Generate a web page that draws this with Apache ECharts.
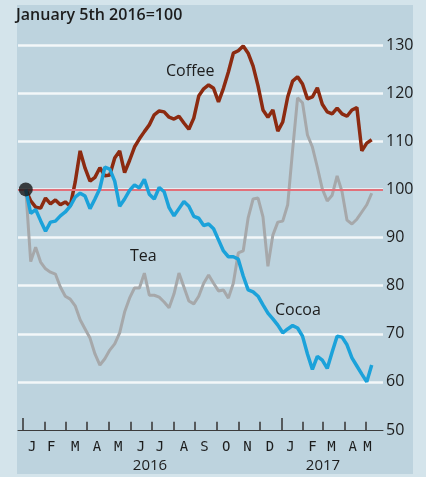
<!DOCTYPE html>
<html><head><meta charset="utf-8">
<script src="https://cdn.jsdelivr.net/npm/echarts/dist/echarts.min.js"></script>
<style>
html,body{margin:0;padding:0;background:#d4e4eb;width:426px;height:477px;overflow:hidden;}
#panel{position:absolute;left:17px;top:5px;width:396px;height:469px;background:#bdd3de;}
#c{position:absolute;left:0;top:0;width:426px;height:477px;}
</style>
</head><body><div id="panel"></div><div id="c"></div>
<script>
const dates = [
'2016-01-05','2016-01-12','2016-01-19','2016-01-26','2016-02-02','2016-02-09','2016-02-16','2016-02-23',
'2016-03-01','2016-03-08','2016-03-15','2016-03-22','2016-03-29','2016-04-05','2016-04-12','2016-04-19',
'2016-04-26','2016-05-03','2016-05-10','2016-05-17','2016-05-24','2016-05-31','2016-06-07','2016-06-14',
'2016-06-21','2016-06-28','2016-07-05','2016-07-12','2016-07-19','2016-07-26','2016-08-02','2016-08-09',
'2016-08-16','2016-08-23','2016-08-30','2016-09-06','2016-09-13','2016-09-20','2016-09-27','2016-10-04',
'2016-10-11','2016-10-18','2016-10-25','2016-11-01','2016-11-08','2016-11-15','2016-11-22','2016-11-29',
'2016-12-06','2016-12-13','2016-12-20','2016-12-27','2017-01-03','2017-01-10','2017-01-17','2017-01-24',
'2017-01-31','2017-02-07','2017-02-14','2017-02-21','2017-02-28','2017-03-07','2017-03-14','2017-03-21',
'2017-03-28','2017-04-04','2017-04-11','2017-04-18','2017-04-25','2017-05-02','2017-05-09'];

const coffee = [100,97.6,96.3,96.1,98.2,97.0,97.8,96.8,97.4,96.5,101.5,108,104.4,101.7,102.5,104.5,
102.8,103,106.5,108,103.5,106,108.8,110.5,112,113.4,115.5,116.3,116.1,115,114.6,115.2,
113.8,112.5,114.8,119.4,120.9,121.7,121,118.2,121,124.4,128.3,128.8,129.8,128.3,125.6,121.5,
116.5,115,116.5,112.1,114,119.2,122.5,123.4,121.9,118.8,119.2,121.1,117.7,116.1,115.7,116.9,
115.7,115.2,116.5,117,108,109.6,110.3];

const cocoa = [100,95.0,95.8,93.5,91.3,93.2,93.4,94.5,95.3,96.5,98.4,99.2,98.6,96,98,100.2,
104.6,104.2,101.7,96.5,98.0,99.8,100.9,100.3,102.1,99,98,100.4,99.5,96.2,94.5,96,
97.5,96.5,94.4,94,92.5,92.8,91.8,89.5,87.2,86,86,85.5,82,79.1,78.7,77.8,
76,74.3,73.1,71.8,70.2,71,71.7,71.2,69.5,65.8,62.6,65.3,64.5,62.8,66.2,69.5,
69.3,67.7,65,63.3,61.6,60,63.5];

const tea = [100,85,88,84.9,83.5,82.8,82.4,79.7,77.8,77.2,75.8,72.9,71,69.1,65.8,63.5,
64.8,66.6,67.9,70.2,74.5,77.4,79.5,79.5,82.6,78,78,77.6,76.6,75.4,78.3,82.6,
79.7,76.8,76.2,77.8,80.5,82.2,80.5,78.9,79.1,77.4,80.5,86.8,87.2,94.1,98,98.2,
94.3,84,90.5,93.2,93.4,96.8,108.2,119,118,111.3,108.8,104.6,100.1,97.6,98.8,102.8,
99.5,93.6,92.8,93.8,95.3,96.8,99.2];

const baseValue = 100;
const yMin = 50, yMax = 130, yStep = 10;
const monthTickHeight = 1.7;   // index units (~8px)
const yearTickHeight = 2.5;    // index units (~12px)
const xStart = '2015-12-25', xEnd = '2017-05-25';
const monthStarts = ['2016-02-01','2016-03-01','2016-04-01','2016-05-01','2016-06-01',
'2016-07-01','2016-08-01','2016-09-01','2016-10-01','2016-11-01','2016-12-01',
'2017-02-01','2017-03-01','2017-04-01','2017-05-01'];
const yearStarts = ['2016-01-01','2017-01-01'];
const monthLetters = ['J','F','M','A','M','J','J','A','S','O','N','D','J','F','M','A','M'];
const monthLabelDates = ['2016-01-14','2016-02-10','2016-03-15','2016-04-15','2016-05-15','2016-06-16',
'2016-07-13','2016-08-16','2016-09-14','2016-10-15','2016-11-14','2016-12-16','2017-01-14',
'2017-02-14','2017-03-13','2017-04-12','2017-05-03'];
const yearLabels = ['2016','2017'];
const yearLabelDates = ['2016-06-29','2017-03-01'];

function toTs(s){ const p = s.split('-').map(Number); return Date.UTC(p[0], p[1]-1, p[2]); }
const monthLabelTs = monthLabelDates.map(toTs);
const yearLabelTs = yearLabelDates.map(toTs);
function nearestIdx(arr, v){ let b=0; for(let i=1;i<arr.length;i++){ if(Math.abs(arr[i]-v)<Math.abs(arr[b]-v)) b=i; } return b; }

const txt = '#1c1c1c';
const tickColor = '#3c3c3c';
const chart = echarts.init(document.getElementById('c'), null, {renderer:'canvas'});
const pairs = arr => dates.map((d,i)=>[toTs(d), arr[i]]);
const tickLine = (d, h, w) => [{coord:[toTs(d), yMin], lineStyle:{color:tickColor, width:w, type:'solid'}}, {coord:[toTs(d), yMin + h]}];
const axisTickLines = monthStarts.map(d => tickLine(d, monthTickHeight, 1.6))
  .concat(yearStarts.map(d => tickLine(d, yearTickHeight, 1.6)));

chart.setOption({
  backgroundColor: 'transparent',
  animation: false,
  title: {
    text: 'January 5th 2016=100', left: 16, top: 7, padding: 0,
    textStyle: {fontFamily:'Open Sans', fontSize:16, fontWeight:600, color:txt}
  },
  grid: {left: 18, right: 43, top: 45, bottom: 47, outerBoundsMode: 'none', containLabel: false},
  xAxis: [{
    type: 'value', min: toTs(xStart), max: toTs(xEnd), position: 'bottom',
    axisLine: {show: true, lineStyle: {color: tickColor, width: 1}},
    axisTick: {show: false},
    axisLabel: {show: true, customValues: monthLabelTs, margin: 10, hideOverlap: false,
      fontFamily: 'DejaVu Sans Mono', fontSize: 14, color: txt,
      formatter: v => monthLetters[nearestIdx(monthLabelTs, v)]},
    splitLine: {show: false}
  },{
    type: 'value', min: toTs(xStart), max: toTs(xEnd), position: 'bottom', offset: 0,
    axisLine: {show: false},
    axisTick: {show: false},
    axisLabel: {show: true, customValues: yearLabelTs, margin: 28, hideOverlap: false,
      fontFamily: 'Open Sans', fontSize: 15, color: txt,
      formatter: v => yearLabels[nearestIdx(yearLabelTs, v)]},
    splitLine: {show: false}
  }],
  yAxis: {
    type: 'value', position: 'right', min: yMin, max: yMax, interval: yStep,
    axisLine: {show: false}, axisTick: {show: false},
    axisLabel: {margin: 3, fontFamily: 'Open Sans', fontSize: 16, color: txt},
    splitLine: {show: true, showMinLine: false, lineStyle: {color: '#f3f7f9', width: 2.5}}
  },
  graphic: [
    {type:'text', left: 166, top: 63, style:{text:'Coffee', font:'16px "Open Sans"', fill: txt}},
    {type:'text', left: 130, top: 248, style:{text:'Tea', font:'16px "Open Sans"', fill: txt}},
    {type:'text', left: 275, top: 302, style:{text:'Cocoa', font:'16px "Open Sans"', fill: txt}}
  ],
  series: [
    {name:'Tea', type:'line', data: pairs(tea), showSymbol:false, symbol:'none',
     lineStyle:{color:'#a6a8aa', width:3}, z: 3,
     markLine: {silent:true, symbol:'none', label:{show:false},
       lineStyle:{color:'#e2707a', width:2, type:'solid'},
       data:[{yAxis: baseValue}].concat(axisTickLines)}},
    {name:'Coffee', type:'line', data: pairs(coffee), showSymbol:false, symbol:'none',
     lineStyle:{color:'#8c2a10', width:3.5}, z: 4},
    {name:'Cocoa', type:'line', data: pairs(cocoa), showSymbol:false, symbol:'none',
     lineStyle:{color:'#1ba2da', width:3.5}, z: 5},
    {name:'Base', type:'scatter', data: [[toTs(dates[0]), baseValue]], symbol:'circle', symbolSize: 14,
     itemStyle:{color:'#151515'}, z: 6}
  ]
});
</script>
</body></html>
